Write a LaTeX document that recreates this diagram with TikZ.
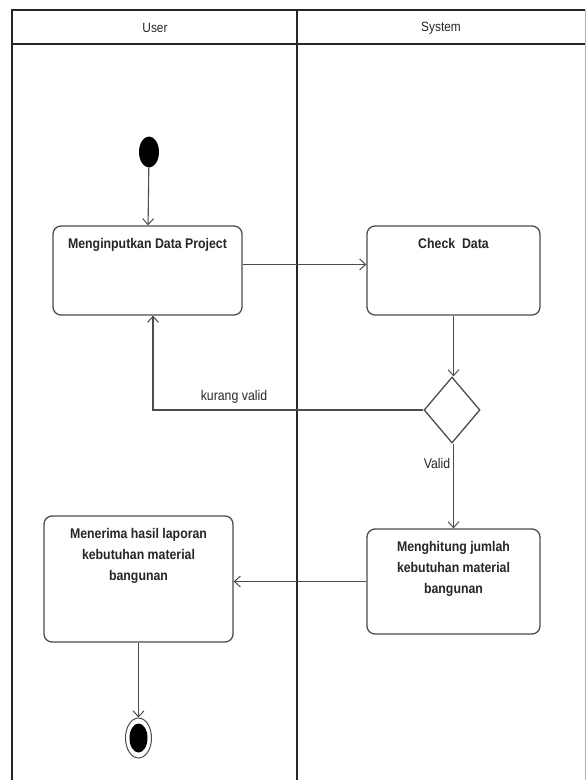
\documentclass[tikz,border=0pt]{standalone}
\usepackage{fontspec}
\setmainfont{Liberation Sans}
\newfontfamily\condf[FakeStretch=0.88]{Liberation Sans}
\usetikzlibrary{arrows.meta,shapes.geometric,calc}
\begin{document}
\begin{tikzpicture}[x=1pt,y=-1pt,
  lane/.style={line width=1.8pt,draw=black!85},
  actbox/.style={draw=black!70,line width=1.3pt,rounded corners=8pt,fill=white,inner sep=0pt},
  acttext/.style={font=\condf\fontsize{14}{21}\selectfont\bfseries,align=center,text=black!85,inner sep=0pt,anchor=north},
  flow/.style={draw=black!70,line width=1.1pt,-{Straight Barb[length=6pt,width=11pt,line width=1pt]}},
  lbl/.style={font=\condf\fontsize{14}{16}\selectfont,text=black!85,inner sep=0pt},
  hdr/.style={font=\condf\fontsize{13.5}{15}\selectfont,text=black!85,inner sep=0pt}]
\useasboundingbox (0,0) rectangle (586,780);
% swimlane frame
\draw[lane] (12,780) -- (12,10) -- (585,10);
\draw[line width=1pt,draw=black!30] (585,10) -- (585,780);
\draw[lane] (12,44) -- (585,44);
\draw[lane] (297,10) -- (297,780);
\node[hdr] (hu) at (155,28) {User};
\node[hdr] (hs) at (441,28) {System};
% nodes
\node[ellipse,fill=black,minimum width=20pt,minimum height=31pt,inner sep=0pt] (init) at (149,152) {};
\node[actbox,minimum width=189pt,minimum height=89pt] (b1) at (147.5,270.5) {};
\node[acttext] (t1) at ([yshift=-13pt]b1.north) {Menginputkan Data Project};
\node[actbox,minimum width=173pt,minimum height=89pt] (b2) at (453.5,270.5) {};
\node[acttext] (t2) at ([yshift=-13pt]b2.north) {Check~ Data};
\node[diamond,draw=black!70,line width=1.3pt,fill=white,minimum width=56pt,minimum height=66pt,inner sep=0pt,aspect=0.85] (d) at (452,410) {};
\node[actbox,minimum width=173pt,minimum height=105pt] (b3) at (453.5,581.5) {};
\node[acttext] (t3) at ([yshift=-13pt]b3.north) {Menghitung jumlah\\kebutuhan material\\bangunan};
\node[actbox,minimum width=189pt,minimum height=126pt] (b4) at (138.5,579) {};
\node[acttext] (t4) at ([yshift=-13pt]b4.north) {Menerima hasil laporan\\kebutuhan material\\bangunan};
\node[ellipse,draw=black!70,line width=1pt,fill=white,minimum width=26pt,minimum height=40pt,inner sep=0pt] (fin) at (138.5,738) {};
\node[ellipse,fill=black,minimum width=18pt,minimum height=29pt,inner sep=0pt] (fin2) at (fin.center) {};
% connectors
\draw[flow] (init) -- (b1);
\draw[flow] ([yshift=6pt]b1.east) -- ([yshift=6pt]b2.west);
\draw[flow] (b2.south) -- (b2.south |- d.north);
\draw[flow] (d.west) -| ([xshift=5.5pt]b1.south);
\node[lbl] (kv) at (234,397) {kurang valid};
\draw[flow] (b2.south |- d.south) -- (b3.north);
\node[lbl] (v) at (437,463) {Valid};
\draw[flow] (b3.west) -- (b3.west -| b4.east);
\draw[flow] (b4) -- (fin);
\end{tikzpicture}
\end{document}
